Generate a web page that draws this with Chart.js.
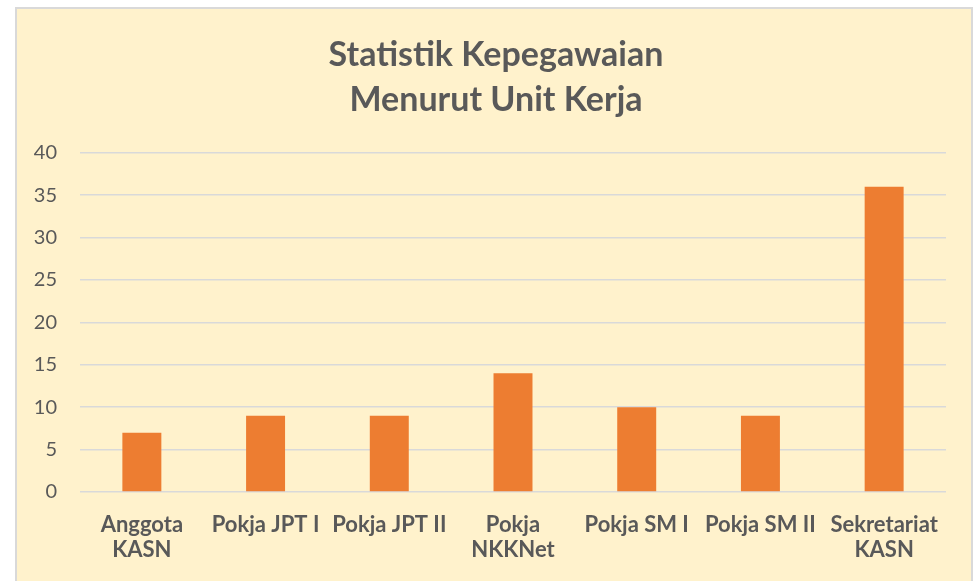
<!DOCTYPE html>
<html>
<head>
<meta charset="utf-8">
<script src="https://cdn.jsdelivr.net/npm/chart.js@4"></script>
<style>
  html, body { margin: 0; padding: 0; background: #ffffff; overflow: hidden; }
  #frame {
    position: absolute; left: 15px; top: 7px; width: 958px; height: 590px;
    background: #FFF2CC; border: 2px solid #D9D9D9; box-sizing: border-box;
  }
  #wrap { position: absolute; left: 0; top: 0; width: 992px; height: 581px; }
</style>
</head>
<body>
<div id="frame"></div>
<div id="wrap"><canvas id="chart" width="992" height="581"></canvas></div>
<script>
// Statistik kepegawaian per unit kerja
const units = [
  ['Anggota', 'KASN'],
  'Pokja JPT I',
  'Pokja JPT II',
  ['Pokja', 'NKKNet'],
  'Pokja SM I',
  'Pokja SM II',
  ['Sekretariat', 'KASN']
];
const employees = [7, 9, 9, 14, 10, 9, 36];
const yTicks = [0, 5, 10, 15, 20, 25, 30, 35, 40];

const textGray = '#595959';
const fontFamily = 'Lato, "Open Sans", sans-serif';

const ctx = document.getElementById('chart').getContext('2d');
new Chart(ctx, {
  type: 'bar',
  data: {
    labels: units,
    datasets: [{
      label: 'Pegawai',
      data: employees,
      backgroundColor: '#ED7D31',
      borderWidth: 0,
      categoryPercentage: 1,
      barPercentage: 0.315
    }]
  },
  options: {
    responsive: false,
    animation: false,
    layout: {padding: 0},
    plugins: {
      legend: {display: false},
      tooltip: {enabled: false},
      title: {
        display: true,
        text: ['Statistik Kepegawaian', 'Menurut Unit Kerja'],
        color: textGray,
        font: {family: fontFamily, size: 34, weight: 'bold', lineHeight: 1.32},
        padding: {top: 33, bottom: 30}
      }
    },
    scales: {
      x: {
        grid: {display: false, drawTicks: false},
        border: {display: false},
        ticks: {
          color: textGray,
          font: {family: fontFamily, size: 22, weight: 'bold', lineHeight: 1.14},
          padding: 20,
          maxRotation: 0,
          autoSkip: false
        },
        afterFit: s => { s.height = 89; }
      },
      y: {
        min: 0,
        max: 40,
        grid: {color: '#D9D9D9', lineWidth: 1.5, drawTicks: false},
        border: {display: false},
        afterBuildTicks: s => { s.ticks = yTicks.map(v => ({value: v})); },
        ticks: {
          color: textGray,
          font: {family: fontFamily, size: 20},
          padding: 23
        },
        afterFit: s => { s.width = 80; }
      },
      // empty right-hand box: keeps the plot narrow without shifting the title
      spacer: {
        position: 'right',
        grid: {display: false, drawTicks: false},
        border: {display: false},
        ticks: {display: false},
        afterFit: s => { s.width = 46; }
      }
    }
  }
});
</script>
</body>
</html>
